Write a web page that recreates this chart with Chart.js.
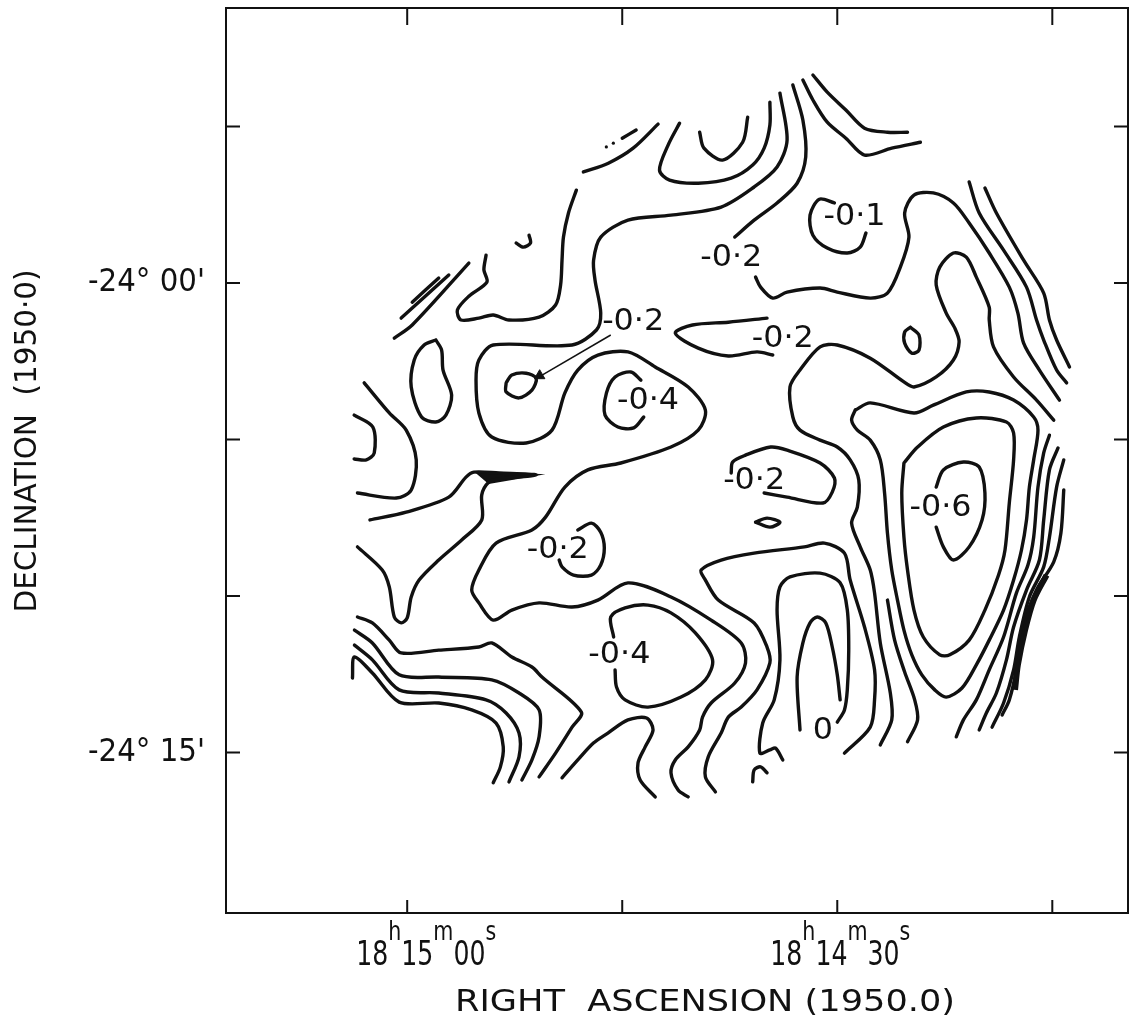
<!DOCTYPE html>
<html>
<head>
<meta charset="utf-8">
<script src="https://cdn.jsdelivr.net/npm/chart.js@4.4.1/dist/chart.umd.min.js"></script>
<style>
  html, body { margin: 0; padding: 0; background: #fff; }
  #wrap { width: 1135px; height: 1025px; position: relative; }
</style>
</head>
<body>
<div id="wrap"><canvas id="map"></canvas></div>
<script>
// x = RA seconds west of 18h15m00s, y = Dec arcmin from -24°00'
const raTicks = [0, 15, 30, 45];
const raLabelAt = [0, 30];
const raLabelParts = [['18', 'h', '15', 'm', '00', 's'], ['18', 'h', '14', 'm', '30', 's']];
const decTicks = [5, 0, -5, -10, -15];
const decLabelAt = [0, -15];
const decLabels = ["-24° 00'", "-24° 15'"];

const levelText = ['-0·1', '-0·2', '-0·2', '-0·2', '-0·4', '-0·2', '-0·6', '-0·2', '-0·4', '0'];
const levelX = [31.2, 22.6, 15.76, 26.2, 16.8, 24.2, 37.2, 10.5, 14.8, 29.0];
const levelY = [2.11, 0.80, -1.25, -1.79, -3.77, -6.33, -7.19, -8.53, -11.88, -14.31];

// contour lines
const topLeftLine = [[12.29, 3.55], [14.03, 3.83], [15.76, 4.31], [17.5, 5.08]];
const topLeftDash = [[15.0, 4.63], [15.97, 4.89]];
const topLeftDots = [[13.89, 4.35], [14.38, 4.47]];
const topU = [[19.0, 5.11], [18.2, 4.41], [17.6, 3.61], [18.3, 3.29], [20.3, 3.19], [22.6, 3.35], [24.1, 3.77], [24.9, 4.31], [25.3, 5.05], [25.3, 5.78]];
const topV = [[20.4, 4.82], [20.7, 4.31], [22.0, 3.93], [23.4, 4.50], [23.75, 5.30]];
const longContour = [[26.0, 6.07], [26.5, 4.57], [25.8, 3.71], [24.2, 3.07], [21.9, 2.43], [18.4, 2.17], [15.4, 2.01], [13.5, 1.47], [13.0, 0.73], [13.1, 0.10], [13.5, -0.96], [13.2, -1.50], [11.5, -1.98], [6.0, -1.98], [5.0, -2.46], [4.8, -3.10], [5.0, -4.15], [5.9, -4.92], [8.3, -5.11], [10.1, -4.70], [11.0, -3.51], [11.9, -2.78], [13.3, -2.30], [15.4, -2.20], [17.3, -2.68], [19.6, -3.32], [20.8, -4.06], [20.3, -4.70], [18.4, -5.24], [14.9, -5.75], [12.6, -5.97], [11.0, -6.52], [9.65, -7.48], [8.7, -7.89], [6.2, -8.31], [5.0, -9.17], [4.5, -9.81], [5.0, -10.22], [6.0, -10.77], [7.3, -10.45], [9.2, -10.22], [11.5, -10.35], [13.3, -10.13], [15.4, -9.58], [18.4, -10.03], [21.2, -10.77], [23.3, -11.50], [23.6, -12.14], [22.85, -12.78], [21.2, -13.42], [20.6, -13.87], [20.4, -14.28], [19.6, -14.82], [18.7, -15.24], [18.4, -15.65], [18.9, -16.20], [19.6, -16.42]];
const upperRidge = [[26.9, 6.33], [27.6, 5.21], [27.8, 4.03], [27.2, 3.19], [25.8, 2.56], [24.2, 2.01], [22.85, 1.47]];
const upperRidgeLow = [[24.3, 0.19], [24.65, -0.13], [25.5, -0.48], [26.5, -0.29], [28.8, -0.16], [30.0, -0.29], [32.3, -0.48], [33.5, -0.32], [34.4, 0.51], [35.0, 1.47], [34.7, 2.24], [35.35, 2.81], [36.7, 2.88], [38.1, 2.56], [39.2, 1.92], [40.6, 0.96], [42.0, -0.13], [42.6, -0.96], [43.0, -1.92], [44.1, -2.78], [45.5, -3.74]];
const topRightA = [[28.3, 6.65], [29.3, 6.10], [30.6, 5.53], [31.9, 4.95], [33.5, 4.82], [34.9, 4.82]];
const topRightB = [[27.6, 6.49], [28.3, 5.85], [29.3, 5.14], [30.6, 4.63], [31.9, 4.09], [33.8, 4.31], [35.8, 4.50]];
const minus01 = [[29.8, 2.56], [28.75, 2.68], [28.1, 2.17], [28.3, 1.53], [29.3, 1.12], [30.7, 0.96], [31.6, 1.15], [32.0, 1.60]];
const edgeA = [[39.2, 3.23], [39.9, 2.24], [41.6, 1.05], [43.2, -0.13], [43.9, -1.18], [44.4, -1.82], [45.3, -2.78], [46.0, -3.19]];
const edgeB = [[40.3, 3.04], [41.1, 2.24], [43.0, 0.73], [44.4, -0.32], [44.8, -1.18], [45.3, -1.82], [46.2, -2.68]];
const eastContour = [[45.1, -4.38], [43.9, -3.74], [42.3, -3.00], [40.9, -2.04], [40.6, -1.18], [40.6, -0.77], [39.7, 0.19], [39.0, 0.83], [38.1, 0.96], [37.15, 0.51], [36.9, -0.06], [37.6, -0.96], [38.2, -1.44], [38.5, -1.88], [38.1, -2.46], [36.9, -3.00], [35.35, -3.32], [34.65, -3.16], [32.3, -2.40], [30.0, -1.98], [28.8, -2.04], [27.4, -2.78], [26.7, -3.32], [26.9, -4.28], [27.4, -4.70], [28.8, -5.02], [30.0, -5.24], [30.9, -5.65], [31.5, -6.29], [31.4, -7.16], [31.0, -7.67], [31.6, -8.43], [32.3, -9.17], [32.6, -9.90], [33.0, -11.50], [33.7, -13.10], [33.8, -13.96], [33.0, -14.76]];
const smallOval = [[35.1, -1.41], [35.7, -1.66], [35.7, -2.14], [35.2, -2.24], [34.7, -1.92], [34.7, -1.57], [35.1, -1.41]];
const minus06Outer = [[31.25, -4.06], [32.3, -3.83], [35.35, -4.15], [36.7, -3.90], [39.0, -3.48], [40.6, -3.48], [42.3, -3.74], [43.7, -4.28], [44.0, -4.70], [43.7, -5.65], [43.4, -6.52], [43.2, -7.57], [42.85, -8.53], [42.3, -9.49], [41.6, -10.45], [40.6, -11.41], [39.7, -12.20], [38.7, -12.94], [37.6, -13.23], [36.8, -13.00], [35.9, -12.52], [35.2, -11.88], [34.65, -11.09], [34.2, -10.13], [33.8, -9.17], [33.5, -7.99], [33.3, -6.71], [33.0, -5.65], [32.3, -5.02], [31.4, -4.70], [31.0, -4.38], [31.25, -4.06]];
const southEastArc = [[33.5, -10.13], [34.0, -11.41], [34.7, -12.43], [35.4, -13.32], [35.6, -13.96], [34.9, -14.66]];
const minus06Mid = [[34.65, -5.75], [35.6, -5.24], [37.4, -4.60], [39.7, -4.31], [41.8, -4.44], [42.3, -4.79], [42.3, -5.65], [42.0, -7.03], [41.7, -8.53], [41.25, -9.33], [40.3, -10.45], [39.2, -11.41], [37.85, -11.88], [37.15, -11.88], [36.0, -11.31], [35.35, -10.45], [34.9, -9.17], [34.65, -8.12], [34.5, -6.71], [34.65, -5.75]];
const minus06Inner = [[36.9, -6.52], [37.4, -5.97], [38.8, -5.72], [39.9, -5.88], [40.3, -6.71], [40.1, -7.57], [39.2, -8.43], [38.1, -8.85], [37.4, -8.43], [36.9, -7.80]];
const steepA = [[44.8, -4.86], [44.4, -5.43], [44.0, -6.52], [43.7, -8.12], [43.3, -9.01], [42.5, -9.90], [41.6, -11.31], [40.6, -12.36], [39.7, -13.32], [38.8, -13.96], [38.3, -14.50]];
const steepB = [[45.4, -5.27], [44.8, -5.97], [44.4, -7.57], [44.1, -8.85], [43.2, -9.81], [42.3, -10.99], [41.8, -12.04], [41.1, -13.10], [40.4, -13.74], [39.9, -14.28]];
const steepC = [[45.8, -5.65], [45.3, -6.52], [44.8, -8.12], [44.4, -9.07], [43.4, -10.03], [42.7, -11.31], [42.3, -12.36], [41.6, -13.42], [40.8, -14.19]];
const steepD = [[45.8, -6.61], [45.6, -7.99], [45.1, -8.91], [43.9, -9.81], [43.0, -10.93], [42.5, -12.36], [42.0, -13.32], [41.5, -13.80]];
const steepBand = [[44.6, -9.33], [43.7, -10.13], [43.1, -11.09], [42.6, -12.20], [42.4, -13.00]];
const southMid = [[21.5, -16.26], [20.8, -15.78], [21.0, -15.14], [21.9, -14.38], [22.4, -13.87], [23.3, -13.55], [24.4, -13.00], [25.3, -12.14], [25.1, -11.63], [24.2, -10.86], [21.7, -10.13], [20.8, -9.49], [20.5, -9.17], [21.9, -8.85], [24.2, -8.63], [27.7, -8.43], [29.1, -8.31], [30.5, -8.63], [30.9, -9.49], [31.9, -10.99], [32.6, -12.36], [32.6, -13.32], [32.3, -14.19], [30.5, -15.02]];
const zeroOuter = [[26.2, -15.24], [25.7, -14.86], [25.3, -14.92], [24.6, -15.02], [24.8, -14.06], [25.6, -13.32], [26.0, -12.04], [25.8, -10.45], [26.0, -9.71], [26.7, -9.39], [28.8, -9.27], [30.2, -9.58], [30.7, -10.45], [30.8, -11.73], [30.7, -13.00], [30.5, -13.64], [30.0, -14.03]];
const zeroInner = [[27.4, -14.28], [27.2, -12.59], [27.6, -11.50], [28.1, -10.86], [28.6, -10.67], [29.2, -10.86], [29.65, -11.63], [30.0, -12.52], [30.2, -13.32]];
const southHook = [[24.1, -15.94], [24.2, -15.56], [24.65, -15.46], [25.1, -15.65]];
const minus04Upper = [[16.3, -3.10], [15.6, -2.84], [14.5, -3.00], [13.9, -3.51], [13.8, -4.22], [14.7, -4.60], [15.8, -4.63], [16.5, -4.28]];
const minus04Lower = [[14.4, -11.31], [14.2, -10.67], [15.2, -10.38], [16.8, -10.29], [18.4, -10.54], [20.1, -11.18], [21.3, -12.04], [20.8, -12.68], [19.1, -13.23], [16.8, -13.55], [15.2, -13.32], [14.6, -12.91], [14.5, -12.36]];
const lensTop = [[25.1, -1.12], [22.4, -1.25], [19.9, -1.34], [18.7, -1.60], [20.3, -2.08], [22.4, -2.33], [24.4, -2.20], [25.5, -2.30]];
const arrowTarget = [[6.9, -3.19], [7.3, -2.94], [8.3, -2.88], [9.0, -3.04], [8.7, -3.42], [7.8, -3.67], [6.9, -3.48], [6.9, -3.19]];
const minus02Mid = [[22.6, -6.07], [22.7, -5.72], [23.6, -5.50], [25.35, -5.24], [26.5, -5.34], [28.8, -5.75], [29.8, -6.23], [29.65, -6.68], [29.0, -7.03], [26.5, -6.84], [24.9, -6.71]];
const tinyLens = [[24.3, -7.64], [25.1, -7.51], [26.0, -7.64], [25.3, -7.80], [24.3, -7.64]];
const minus02Low = [[11.9, -7.89], [12.85, -7.67], [13.5, -7.96], [13.75, -8.47], [13.5, -9.01], [12.85, -9.33], [11.6, -9.33], [10.8, -9.07], [10.6, -8.85]];
const westFold = [[-2.6, -7.57], [-0.07, -7.32], [2.9, -6.84], [4.1, -6.20], [4.65, -6.04], [6.4, -6.07], [9.0, -6.13], [6.4, -6.26], [5.7, -6.36], [5.2, -6.77], [5.2, -7.57], [3.8, -8.21], [2.2, -8.85], [0.83, -9.49], [0.28, -10.03], [0.0, -10.70], [-0.42, -10.86], [-0.9, -10.67], [-1.25, -9.71], [-1.74, -9.17], [-3.47, -8.43]];
const westWedge = [[4.8, -6.04], [9.0, -6.13], [5.7, -6.39], [4.8, -6.04]];
const westCurve = [[-3.0, -3.19], [-1.25, -4.15], [-0.07, -4.70], [0.63, -5.65], [0.28, -6.61], [-0.76, -6.87], [-3.47, -6.71]];
const westBracket = [[-3.7, -4.22], [-2.4, -4.60], [-2.3, -5.43], [-2.85, -5.65], [-3.7, -5.62]];
const westBlob = [[2.0, -1.82], [2.4, -2.14], [2.5, -2.78], [3.1, -3.58], [2.7, -4.22], [2.0, -4.44], [1.0, -4.28], [0.28, -3.32], [0.49, -2.46], [1.18, -1.98], [2.0, -1.82]];
const diagShort = [[0.35, -0.61], [2.2, 0.16]];
const diagMid = [[-0.42, -1.12], [2.9, 0.26]];
const diagLong = [[-0.9, -1.76], [0.35, -1.34], [4.3, 0.64]];
const hook = [[7.6, 1.28], [8.1, 1.15], [8.6, 1.28], [8.5, 1.53]];
const northWest = [[5.5, 0.89], [5.35, 0.42], [5.56, 0.03], [4.3, -0.42], [3.5, -0.86], [3.75, -1.18], [5.0, -1.12], [6.0, -1.02], [7.1, -1.18], [9.2, -1.09], [10.35, -0.70], [10.7, -0.06], [10.8, 0.73], [10.9, 1.47], [11.25, 2.24], [11.8, 2.97]];
const ladderA = [[-3.47, -10.67], [-2.43, -10.86], [-1.25, -11.41], [-0.42, -11.82], [2.2, -11.73], [5.0, -11.63], [5.9, -11.50], [7.3, -11.95], [8.7, -12.27], [9.4, -12.59], [12.15, -13.71], [11.5, -14.19], [10.35, -15.02], [9.2, -15.78]];
const ladderB = [[-3.68, -11.09], [-2.43, -11.50], [-0.56, -12.52], [2.2, -12.59], [5.9, -12.68], [7.8, -13.10], [9.2, -13.64], [9.2, -14.50], [8.7, -15.24], [8.0, -15.88]];
const ladderC = [[-3.68, -11.57], [-2.43, -12.04], [-0.56, -13.00], [2.2, -13.10], [5.5, -13.32], [6.9, -13.74], [7.8, -14.38], [7.8, -15.14], [7.1, -15.94]];
const ladderD = [[-3.82, -12.62], [-3.68, -11.95], [-2.43, -12.46], [-0.56, -13.39], [2.2, -13.42], [4.5, -13.64], [6.2, -14.06], [6.7, -14.82], [6.5, -15.46], [6.0, -15.97]];
const southBump = [[10.8, -15.81], [11.9, -15.24], [12.99, -14.70], [14.0, -14.38], [15.4, -13.96], [16.7, -13.90], [17.15, -14.28], [16.6, -14.82], [16.1, -15.34], [16.25, -15.88], [17.3, -16.42]];
const arrowShaft = [[14.2, -1.66], [9.2, -3.0]];
const arrowHead = [[9.24, -2.96]];

const thickLines = [topLeftLine, topLeftDash, topU, topV, longContour, upperRidge, upperRidgeLow, topRightA, topRightB,
  minus01, edgeA, edgeB, eastContour, smallOval, minus06Outer, southEastArc, minus06Mid, minus06Inner,
  steepA, steepB, steepC, steepD, southMid, zeroOuter, zeroInner, southHook, minus04Upper, minus04Lower, lensTop,
  arrowTarget, minus02Mid, tinyLens, minus02Low, westFold, westCurve, westBracket, westBlob, diagShort, diagMid,
  diagLong, hook, northWest, ladderA, ladderB, ladderC, ladderD, southBump];

const INK = '#111';
const FONT = "'DejaVu Sans Condensed', 'DejaVu Sans', sans-serif";

function pts(list) {
  return list.map(p => ({ x: p[0], y: p[1] }));
}

const datasets = thickLines.map(line => ({
  data: pts(line),
  showLine: true,
  borderColor: INK,
  borderWidth: 3.4,
  pointRadius: 0,
  tension: 0.3,
  borderCapStyle: 'round',
  borderJoinStyle: 'round',
}));
datasets.push({ data: pts(steepBand), showLine: true, borderColor: INK, borderWidth: 6, pointRadius: 0, tension: 0.3 });
datasets.push({ data: pts(westWedge), showLine: true, borderColor: INK, borderWidth: 2, backgroundColor: INK, fill: 'shape', pointRadius: 0, tension: 0 });
datasets.push({ data: pts(arrowShaft), showLine: true, borderColor: INK, borderWidth: 1.5, pointRadius: 0, tension: 0 });
datasets.push({ data: pts(arrowHead), showLine: false, pointStyle: 'triangle', pointRadius: 6, rotation: 240, backgroundColor: INK, borderColor: INK, borderWidth: 1 });
datasets.push({ data: pts(topLeftDots), showLine: false, pointRadius: 1.6, backgroundColor: INK, borderWidth: 0 });

function fitText(ctx, text, x, y, width, font, align) {
  ctx.font = font;
  const k = width / ctx.measureText(text).width;
  ctx.save();
  ctx.translate(x, y);
  ctx.scale(k, 1);
  ctx.textAlign = align;
  ctx.fillText(text, 0, 0);
  ctx.restore();
}

function drawRA(ctx, parts, left, baseY, width) {
  const big = '33px ' + FONT, small = '27px ' + FONT;
  const widths = parts.map((p, i) => {
    ctx.font = i % 2 ? small : big;
    return ctx.measureText(p).width;
  });
  const total = widths.reduce((a, b) => a + b, 0);
  ctx.save();
  ctx.translate(left, baseY);
  ctx.scale(width / total, 1);
  ctx.textAlign = 'left';
  ctx.textBaseline = 'alphabetic';
  let xx = 0;
  parts.forEach((p, i) => {
    ctx.font = i % 2 ? small : big;
    ctx.fillText(p, xx, i % 2 ? -25 : 0);
    xx += widths[i];
  });
  ctx.restore();
}

const mapFrame = {
  id: 'mapFrame',
  afterDatasetsDraw(chart) {
    const { ctx, chartArea: a, scales: { x, y } } = chart;
    ctx.save();
    ctx.strokeStyle = INK;
    ctx.fillStyle = INK;
    ctx.lineWidth = 2;
    ctx.strokeRect(a.left, a.top, a.right - a.left, a.bottom - a.top);

    ctx.beginPath();
    raTicks.forEach(v => {
      const px = x.getPixelForValue(v);
      ctx.moveTo(px, a.bottom); ctx.lineTo(px, a.bottom - 13);
      ctx.moveTo(px, a.top); ctx.lineTo(px, a.top + 17);
    });
    decTicks.forEach(v => {
      const py = y.getPixelForValue(v);
      ctx.moveTo(a.left, py); ctx.lineTo(a.left + 14, py);
      ctx.moveTo(a.right, py); ctx.lineTo(a.right - 14, py);
    });
    ctx.stroke();

    // tick labels: left edge offsets from the tick position
    const raLeft = [-51, -67];
    raLabelAt.forEach((v, i) => {
      drawRA(ctx, raLabelParts[i], x.getPixelForValue(v) + raLeft[i], a.bottom + 52, 140);
    });
    ctx.textBaseline = 'middle';
    decLabelAt.forEach((v, i) => {
      fitText(ctx, decLabels[i], a.left - 21, y.getPixelForValue(v), 117, '32px ' + FONT, 'right');
    });

    // axis titles
    fitText(ctx, 'RIGHT  ASCENSION (1950.0)', 705, a.bottom + 90, 500, '30px ' + FONT, 'center');
    ctx.save();
    ctx.translate(28, 441);
    ctx.rotate(-Math.PI / 2);
    fitText(ctx, 'DECLINATION  (1950·0)', 0, 0, 343, '30px ' + FONT, 'center');
    ctx.restore();

    // contour level labels
    ctx.font = '31px ' + FONT;
    const k = 62 / ctx.measureText('-0·2').width;
    levelText.forEach((t, i) => {
      ctx.save();
      ctx.translate(x.getPixelForValue(levelX[i]), y.getPixelForValue(levelY[i]));
      ctx.scale(k, 1);
      ctx.textAlign = 'center';
      ctx.fillText(t, 0, 0);
      ctx.restore();
    });
    ctx.restore();
  }
};

new Chart(document.getElementById('map'), {
  type: 'scatter',
  data: { datasets },
  options: {
    responsive: true,
    maintainAspectRatio: false,
    animation: false,
    layout: { padding: { left: 226, top: 8, right: 3, bottom: 112 } },
    plugins: { legend: { display: false }, tooltip: { enabled: false } },
    scales: {
      x: { type: 'linear', display: false, min: -12.64, max: 50.28 },
      y: { type: 'linear', display: false, min: -20.13, max: 8.79 },
    },
  },
  plugins: [mapFrame],
});
</script>
</body>
</html>
